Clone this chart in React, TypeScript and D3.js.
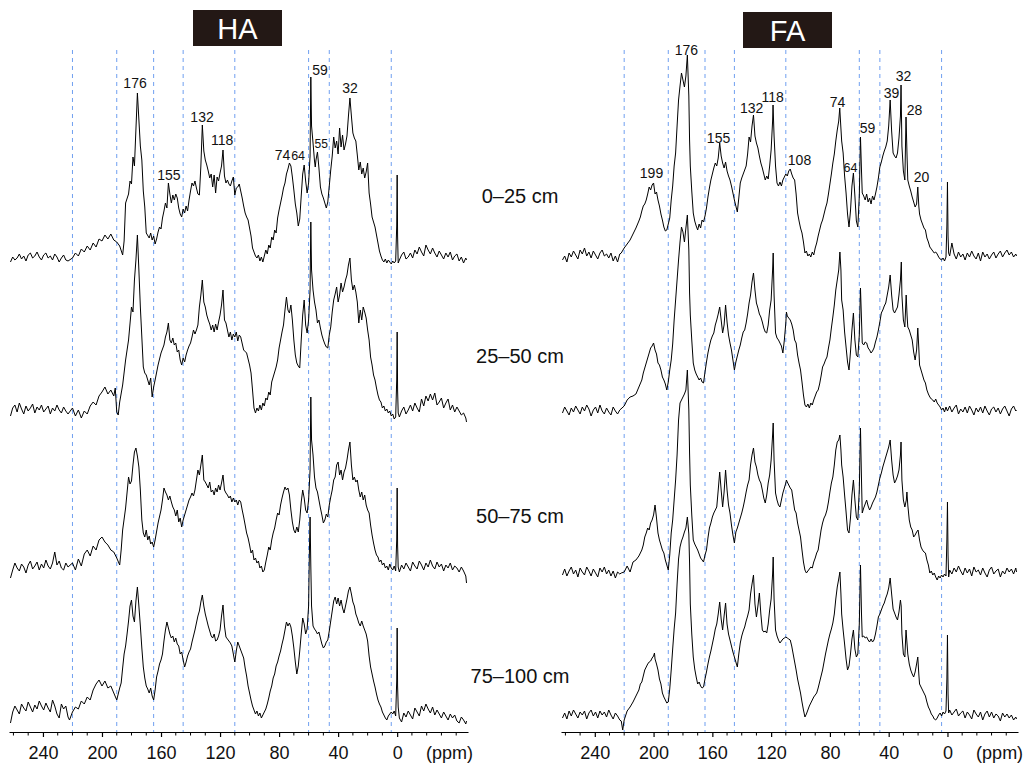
import React, { useRef, useEffect } from 'react';
import * as d3 from 'd3';

// depth labels and axis
const DEPTHS = ['0–25 cm', '25–50 cm', '50–75 cm', '75–100 cm'];
const PPM_TICKS = [240, 200, 160, 120, 80, 40, 0];
const REGION_LINES = [220, 190, 165, 145, 110, 60, 46, 4];

// spectra, flat [ppm, height, ppm, height, ...]
const HA_0_25 = [
  262,4, 260.5,9, 259,6, 257.5,8, 256,12, 254.5,7, 253,10, 251.5,5, 250,11, 248.5,13, 247,8, 245.5,10, 244,14, 242.5,9, 241,6, 239.5,11, 238,13, 236.5,8, 235,10,
  233.5,6, 232,12, 230.5,9, 229,4, 227.5,8, 226,11, 224.5,6, 223,5, 220,8,
  218,13, 216,10, 214,17, 212,14, 210,20, 208,16, 206,23, 204,19, 202,27, 200,25, 198,31, 196,27, 194,32, 192,26, 190,24, 188,20, 186,11, 185,25, 184,63, 182,72,
  181,85, 180,82, 179,109, 178,100, 176,173, 174,120, 173,106, 172,75, 171,59, 170,33, 168,28, 167,33, 166,26, 165,30, 164,22, 163,27, 162,34, 161,39, 160,37,
  159,48, 158,55, 157,63, 156,58, 155,83, 154,72, 153,63, 152,71, 151,66, 150,72, 149,68, 148,58, 147,52, 146,49, 145,57, 144,53, 143,60, 142,55, 141,66, 140,75,
  139,83, 138,80, 137,85, 136,78, 135,72, 134,71, 133,100, 132,141, 131,115, 130,106, 129,101, 128,95, 127,88, 126,92, 125,79, 124,91, 123,73, 122,89, 121,85,
  120,93, 119,100, 118,116, 117,90, 116,83, 115,86, 114,82, 113,80, 112,85, 111,89, 110,71, 109,78, 108,79, 107,82, 106,75, 105,68, 104,60, 103,53, 102,49, 101,46,
  100,38, 99,30, 98,18, 97,14, 96,10, 95,8, 94,11, 93,5, 92,9, 91,4, 90,10, 89,16, 88,12, 87,21, 86,18, 85,29, 84,26, 83,36, 82,33, 81,48, 80,56, 79,63, 78,70,
  77,78, 76,83, 75,92, 74,97, 73,103, 72,100, 71,89, 70,76, 69,62, 68,53, 67,40, 66,47, 65,70, 64,92, 63,101, 62,85, 61,73, 60,83, 59,110, 58.5,189, 58,140, 57,123,
  56,105, 55.5,99, 55,106, 54,114, 53,98, 52,79, 51,72, 50,68, 49,63, 48,58, 47,64, 46,80, 45,96, 44,110, 43,129, 42,118, 41,125, 40,112, 39,138, 38,119, 37,131,
  36,116, 35,122, 34,130, 33,150, 32,168, 31,150, 30,133, 29,128, 28,125, 27,111, 26,96, 25,104, 24,92, 23,98, 22,88, 21,94, 20,103, 19,73, 18,62, 17,49, 16,44,
  15,39, 14,31, 13,23, 12,15, 11,10, 10,6, 9,4, 8,7, 7,3, 6,6, 5,4, 4,2, 3,5, 2,3, 1,5, 0.3,40, 0,91, -0.3,30, -0.7,3,
  -1.5,6, -3,11, -4.5,14, -6,7, -7.5,9, -9,13, -10.5,8, -12,16, -13.5,12, -15,19, -16.5,14, -18,10, -19.5,21, -21,16, -22.5,12, -24,18, -25.5,13, -27,9, -28.5,15,
  -30,11, -31.5,7, -33,13, -34.5,9, -36,14, -37.5,6, -39,10, -40.5,12, -42,5, -43.5,9, -45,3, -46.5,8, -47,6,
];
const HA_25_50 = [
  262,4, 260.5,12, 259,15, 257.5,8, 256,17, 254.5,11, 253,6, 251.5,14, 250,9, 248.5,12, 247,16, 245.5,7, 244,13, 242.5,10, 241,15, 239.5,8, 238,11, 236.5,14, 235,6,
  233.5,12, 232,9, 230.5,15, 229,10, 227.5,7, 226,13, 224.5,9, 223,6,
  220,12, 218,4, 216,10, 214,2, 212,9, 210,6, 208,14, 206,18, 204,15, 202,24, 200,28, 198,33, 196,26, 194,30, 192,24, 191,32, 190,8, 189,5, 188,18, 186,35, 184,60,
  182,80, 180,113, 179,108, 178,140, 177,160, 176,185, 175,150, 174,113, 172,53, 171,47, 170,45, 168,35, 167,42, 166,23, 165,33, 164,40, 162,55, 160,67, 158,75,
  157,83, 156,88, 155,97, 154,80, 153,77, 152,82, 151,75, 150,77, 149,68, 148,70, 147,60, 146,55, 145,62, 144,58, 143,65, 142,70, 141,74, 140,77, 139,83, 138,90,
  137,86, 136,90, 135,95, 134,113, 133,125, 132,140, 131,118, 130,113, 129,105, 128,100, 127,96, 126,90, 125,95, 124,88, 123,96, 122,90, 121,98, 120,105, 119,115,
  118,130, 117,100, 116,97, 115,90, 114,83, 113,88, 112,80, 111,86, 110,83, 109,88, 108,79, 107,85, 106,83, 104,70, 102,67, 100,55, 99,47, 98,30, 97,12, 96,7,
  95,12, 94,9, 93,15, 92,10, 91,17, 90,14, 89,22, 88,20, 87,28, 86,25, 85,38, 84,43, 83,48, 82,53, 81,60, 80,72, 79,80, 78,88, 77,95, 76,110, 75,123, 74,110,
  73,107, 72,115, 71,100, 70,80, 69,65, 68,57, 67,54, 66,52, 65,80, 64,105, 63,120, 62,95, 61,87, 60,100, 59,130, 58.5,198, 58,150, 57,130, 56,118, 55,110, 54,97,
  53,100, 52,92, 51,85, 50,80, 49,76, 48,73, 47,72, 46,85, 45,93, 44,108, 43,120, 42,126, 41,133, 40,118, 39,125, 38,137, 37,128, 36,133, 35,140, 34,145, 33,155,
  32,162, 31,140, 30,130, 29,135, 28,128, 27,118, 26,97, 25,110, 24,100, 23,113, 22,108, 21,102, 20,90, 19,80, 18,63, 17,55, 16,45, 15,40, 14,32, 13,25, 12,20,
  11,18, 10,12, 9,14, 8,9, 7,11, 6,7, 5,9, 4,4, 3,6, 2,1, 1,3, 0.3,40, 0,88, -0.3,30, -0.7,7,
  -1.5,3, -3,9, -4.5,13, -6,6, -7.5,10, -9,15, -10.5,9, -12,17, -13.5,12, -15,8, -16.5,21, -18,14, -19.5,24, -21,19, -22.5,26, -24,20, -25.5,27, -27,15, -28.5,18,
  -30,22, -31.5,12, -33,17, -34.5,21, -36,10, -37.5,15, -39,8, -40.5,13, -42,9, -43.5,5, -45,7, -46.5,2, -47,-2,
];
const HA_50_75 = [
  262,2, 260.5,10, 259,17, 257.5,12, 256,9, 254.5,16, 253,13, 251.5,7, 250,15, 248.5,19, 247,11, 245.5,14, 244,18, 242.5,10, 241,16, 239.5,12, 238,20, 236.5,14,
  235,11, 233.5,17, 232,28, 230.5,15, 229,19, 227.5,12, 226,10, 224.5,17, 223,13,
  220,17, 218,10, 216,21, 214,14, 212,26, 210,30, 208,24, 206,34, 204,30, 202,40, 200,43, 198,38, 196,35, 194,30, 192,28, 190,22, 188,15, 187,30, 186,50,
  184,72, 182,103, 181,96, 180,99, 179,115, 178,128, 177,132, 176,124, 175,113, 174,90, 173,60, 172,47, 171,43, 170,50, 169,40, 168,44, 167,36, 166,38, 165,33,
  164,40, 162,57, 160,70, 159,80, 158,92, 157,88, 156,85, 155,80, 154,84, 153,78, 152,73, 151,70, 150,64, 149,70, 148,58, 147,62, 146,53, 145,60, 144,65, 143,70,
  142,75, 141,80, 140,83, 139,87, 138,84, 137,90, 136,100, 135,110, 134,105, 133,115, 132,125, 131,100, 130,98, 129,95, 128,92, 127,98, 126,88, 125,90, 124,85,
  123,92, 122,88, 121,95, 120,90, 119,97, 118,105, 117,90, 116,87, 115,85, 114,82, 113,84, 112,78, 111,82, 110,78, 109,80, 108,75, 107,80, 106,78, 105,70, 104,63,
  103,55, 102,47, 101,42, 100,35, 99,27, 98,30, 97,20, 96,22, 95,17, 94,19, 93,12, 92,14, 91,8, 90,10, 89,18, 88,25, 87,33, 86,30, 85,40, 84,47, 83,52, 82,60,
  81,67, 80,65, 79,75, 78,82, 77,88, 76,93, 75,90, 74,92, 73,85, 72,70, 71,58, 70,50, 69,47, 68,53, 67,48, 66,60, 65,78, 64,90, 63,82, 62,70, 61,67, 60,80,
  59,110, 58.5,183, 58,140, 57,125, 56,103, 55,92, 54,88, 53,80, 52,72, 51,65, 50,57, 49,60, 48,66, 47,63, 46,75, 45,83, 44,90, 43,100, 42,103, 41,115, 40,118,
  39,105, 38,110, 37,100, 36,108, 35,112, 34,120, 33,130, 32,138, 31,115, 30,100, 29,103, 28,98, 27,100, 26,90, 25,83, 24,88, 23,80, 22,85, 21,75, 20,70, 19,67,
  18,55, 17,45, 16,37, 15,30, 14,25, 13,23, 12,18, 11,20, 10,15, 9,17, 8,12, 7,14, 6,10, 5,16, 4,12, 3,10, 2,14, 1,9, 0.3,40, 0,92, -0.3,35, -0.7,13,
  -1.5,8, -3,15, -4.5,11, -6,17, -7.5,13, -9,9, -10.5,18, -12,14, -13.5,11, -15,19, -16.5,15, -18,10, -19.5,17, -21,13, -22.5,20, -24,14, -25.5,11, -27,18,
  -28.5,13, -30,16, -31.5,9, -33,15, -34.5,12, -36,17, -37.5,10, -39,14, -40.5,12, -42,8, -43.5,13, -45,9, -46.5,4, -47,-3,
];
const HA_75_100 = [
  262,3, 260.5,14, 259,20, 257.5,16, 256,12, 254.5,22, 253,18, 251.5,15, 250,24, 248.5,19, 247,14, 245.5,21, 244,17, 242.5,25, 241,20, 239.5,16, 238,23, 236.5,18,
  235,14, 233.5,26, 232,20, 230.5,12, 229,8, 227.5,22, 226,17, 224.5,20, 223,9, 222,6,
  220,14, 218,19, 216,17, 214,25, 212,22, 210,29, 208,26, 206,36, 204,42, 202,46, 200,40, 198,45, 196,38, 194,40, 192,33, 190,26, 188,38, 187,43, 186,58,
  185,72, 184,80, 183,92, 182,105, 181,120, 180,126, 179,110, 178,104, 177,125, 176,139, 175,120, 174,100, 173,78, 172,59, 171,48, 170,40, 169,37, 168,33, 167,38,
  166,30, 165,26, 164,36, 163,49, 162,55, 161,62, 160,66, 159,72, 158,85, 157,96, 156,104, 155,98, 154,92, 153,88, 152,90, 151,84, 150,88, 149,82, 148,80, 147,72,
  146,74, 145,66, 144,59, 143,64, 142,70, 141,74, 140,77, 139,84, 138,90, 137,96, 136,103, 135,110, 134,115, 133,124, 132,131, 131,120, 130,112, 129,106, 128,100,
  127,95, 126,90, 125,88, 124,92, 123,85, 122,86, 121,90, 120,96, 119,110, 118,121, 117,100, 116,89, 115,87, 114,85, 113,83, 112,80, 111,72, 110,64, 109,75, 108,84,
  107,80, 106,76, 105,72, 104,68, 103,58, 102,50, 101,40, 100,33, 99,26, 98,20, 97,16, 96,12, 95,15, 94,10, 93,13, 92,8, 91,11, 90,14, 89,17, 88,22, 87,28, 86,35,
  85,40, 84,48, 83,52, 82,60, 81,64, 80,70, 79,75, 78,82, 77,88, 76,96, 75,104, 74,100, 73,103, 72,99, 71,90, 70,78, 69,64, 68,52, 67,60, 66,75, 65,92, 64,108,
  63,102, 62,92, 61,97, 60,120, 59.5,170, 59,209, 58.5,160, 58,120, 57,100, 56,97, 55,95, 54,92, 53,94, 52,88, 51,82, 50,78, 49,80, 48,84, 47,86, 46,95, 45,105,
  44,115, 43,125, 42,129, 41,122, 40,128, 39,120, 38,126, 37,118, 36,113, 35,120, 34,127, 33,135, 32,139, 31,132, 30,124, 29,120, 28,112, 27,108, 26,103, 25,100,
  24,105, 23,100, 22,96, 21,92, 20,85, 19,70, 18,59, 17,52, 16,45, 15,39, 14,32, 13,26, 12,22, 11,19, 10,14, 9,11, 8,8, 7,6, 6,10, 5,12, 4,14, 3,12, 2,15, 1,10,
  0.3,45, 0,98, -0.3,40, -0.7,19,
  -1.5,8, -3,4, -4.5,13, -6,9, -7.5,15, -9,11, -10.5,7, -12,18, -13.5,14, -15,10, -16.5,20, -18,15, -19.5,22, -21,17, -22.5,13, -24,19, -25.5,11, -27,16,
  -28.5,12, -30,8, -31.5,14, -33,10, -34.5,6, -36,12, -37.5,8, -39,11, -40.5,5, -42,3, -43.5,9, -45,6, -46.5,2, -47,5,
];
const FA_0_25 = [
  262,6, 260.5,10, 259,4, 257.5,13, 256,9, 254.5,15, 253,11, 251.5,7, 250,16, 248.5,12, 247,18, 245.5,10, 244,14, 242.5,8, 241,15, 239.5,11, 238,7, 236.5,13,
  235,16, 233.5,10, 232,12, 230.5,8, 229,13, 227.5,5, 226,10, 224.5,4, 223,12, 222,13,
  220,18, 218,22, 216,26, 214,32, 212,38, 210,45, 209,49, 208,55, 207,60, 206,62, 205,66, 204,72, 203,79, 202,76, 201,81, 200,83, 199,72, 198,74, 197,66, 196,60,
  195,52, 194,46, 193,39, 192,35, 191,36, 190,42, 189,48, 188,66, 187,80, 186,100, 185,113, 184,140, 183,166, 182,180, 181,193, 180,186, 179,179, 178,190, 177,211,
  176,170, 175.5,126, 175,100, 174,75, 173,53, 172,45, 171,40, 170,36, 169,42, 168,38, 167,46, 166,44, 165,50, 164,58, 163,69, 162,78, 161,86, 160,92, 159,98,
  158,103, 157,100, 156,108, 155,123, 154,110, 153,103, 152,98, 151,104, 150,95, 149,90, 148,86, 147,80, 146,73, 145,66, 144,60, 143,54, 142,68, 141,83, 140,88,
  139,92, 138,96, 137,100, 136,112, 135,129, 134,124, 133,140, 132,151, 131,130, 130,123, 129,118, 128,110, 127,103, 126,98, 125,92, 124,86, 123,90, 122,87, 121,100,
  120,116, 119,145, 118.7,161, 118,130, 117,100, 116,83, 115,80, 114,84, 113,80, 112,86, 111,89, 110,92, 109,90, 108,95, 107,97, 106,92, 105,88, 104,86, 103,72,
  102,53, 101,45, 100,38, 99,33, 98,24, 97,13, 96,15, 95,10, 94,12, 93,9, 92,14, 91,11, 90,18, 89,23, 88,30, 87,36, 86,42, 85,46, 84,52, 83,58, 82,63, 81,72,
  80,82, 79,92, 78,103, 77,112, 76,125, 75,136, 74,145, 73.3,158, 73,150, 72,125, 71,113, 70,90, 69,73, 68,52, 67,39, 66,55, 65,80, 64,93, 63,70, 62,45, 61,39,
  60,70, 59.2,129, 58.5,95, 58,73, 57,70, 56,66, 55,72, 54,64, 53,68, 52,62, 51,70, 50,66, 49,72, 48,79, 47,88, 46,99, 45,104, 44,110, 43,115, 42,119, 41,125,
  40,140, 39,166, 38,135, 37,113, 36,110, 35,108, 34,113, 33,128, 32,150, 31.6,181, 31,120, 30,95, 29,86, 28.2,149, 27.5,110, 27,86, 26,80, 25,75, 24,69, 23,64,
  22,59, 21,62, 20.2,79, 19.5,60, 19,52, 18,46, 17,42, 16,38, 15,36, 14,28, 13,24, 12,19, 11,17, 10,15, 9,13, 8,14, 7,12, 6,9, 5,7, 4,6, 3,8, 2,5, 1,9,
  0.4,40, 0,84, -0.4,30, -0.8,13,
  -1.5,10, -3,23, -4.5,12, -6,7, -7.5,14, -9,9, -10.5,12, -12,6, -13.5,13, -15,9, -16.5,15, -18,10, -19.5,7, -21,13, -22.5,5, -24,14, -25.5,9, -27,12, -28.5,7,
  -30,11, -31.5,14, -33,8, -34.5,12, -36,15, -37.5,9, -39,13, -40.5,16, -42,11, -43.5,14, -45,9, -46.5,12, -47,10,
];
const FA_25_50 = [
  262,7, 260.5,13, 259,9, 257.5,5, 256,12, 254.5,8, 253,14, 251.5,10, 250,6, 248.5,13, 247,9, 245.5,15, 244,11, 242.5,4, 241,10, 239.5,13, 238,7, 236.5,15, 235,9,
  233.5,6, 232,12, 230.5,8, 229,5, 227.5,13, 226,9, 224.5,6, 223,10,
  220,14, 218,20, 216,23, 214,24, 212,26, 210,33, 208,40, 207,47, 206,52, 205,57, 204,62, 203,67, 202,72, 201,74, 200,77, 199,70, 198,66, 197,57, 196,55, 195,50,
  194,43, 193,40, 192,36, 191,30, 190,38, 189,50, 188,60, 187,76, 186,100, 185,120, 184,140, 183,160, 182,178, 181,193, 180,188, 179,178, 178,192, 177,205, 176,170,
  175.5,127, 175,105, 174,80, 173,57, 172,50, 171,46, 170,43, 169,40, 168,42, 167,38, 166,37, 165,48, 164,58, 163,67, 162,74, 161,80, 160,84, 159,87, 158,95,
  157,100, 156,106, 155,113, 154,100, 153,87, 152,95, 151,115, 150,98, 149,85, 148,77, 147,70, 146,60, 145,50, 144,58, 143,64, 142,70, 141,75, 140,82, 139,88,
  138,90, 137,97, 136,106, 135,117, 134,125, 133,138, 132,147, 131,130, 130,117, 129,112, 128,106, 127,103, 126,98, 125,92, 124,88, 123,87, 122,95, 121,110, 120,120,
  119,150, 118.6,167, 118,125, 117,87, 116,82, 115,80, 114,77, 113,74, 112,67, 111,80, 110,97, 109.6,108, 109,104, 108,102, 107,100, 106,96, 105,90, 104,80, 103,77,
  102,65, 101,57, 100,50, 99,38, 98,25, 97,15, 96,13, 95,16, 94,12, 93,17, 92,15, 91,20, 90,24, 89,28, 88,30, 87,36, 86,44, 85,53, 84,56, 83,60, 82,63, 81,72,
  80,80, 79,92, 78,103, 77,115, 76,130, 75,140, 74,150, 73.2,168, 72.5,150, 72,120, 71,110, 70,88, 69,73, 68,58, 67,50, 66,68, 65,90, 64,107, 63,80, 62,65, 61,63,
  60,85, 59.2,132, 58.5,100, 58,77, 57,75, 56,78, 55,77, 54,72, 53,70, 52,67, 51,69, 50,72, 49,78, 48,83, 47,90, 46,98, 45,107, 44,110, 43,114, 42,117, 41,125,
  40,133, 39,145, 38,125, 37,110, 36,107, 35,110, 34,113, 33,125, 32,140, 31.4,158, 31,125, 30,100, 29,93, 28.1,125, 27.5,105, 27,93, 26,90, 25,85, 24,80, 23,68,
  22,60, 21,70, 20.2,92, 19.5,72, 19,55, 18,50, 17,45, 16,40, 15,37, 14,30, 13,26, 12,23, 11,21, 10,20, 9,18, 8,21, 7,17, 6,15, 5,13, 4,10, 3,12, 2,8, 1,13, 0,9,
  -1.5,14, -3,8, -4.5,12, -6,15, -7.5,6, -9,11, -10.5,8, -12,13, -13.5,7, -15,14, -16.5,10, -18,5, -19.5,12, -21,8, -22.5,13, -24,7, -25.5,14, -27,9, -28.5,5,
  -30,11, -31.5,13, -33,8, -34.5,12, -36,6, -37.5,11, -39,14, -40.5,9, -42,4, -43.5,11, -45,14, -46.5,9, -47,10,
];
const FA_50_75 = [
  262,5, 260.5,11, 259,4, 257.5,9, 256,13, 254.5,6, 253,10, 251.5,3, 250,12, 248.5,8, 247,5, 245.5,13, 244,9, 242.5,4, 241,11, 239.5,7, 238,3, 236.5,12, 235,8,
  233.5,13, 232,6, 230.5,10, 229,4, 227.5,9, 226,2, 224.5,8, 223,6, 222,7,
  220,8, 218,14, 216,8, 214,18, 212,20, 210,24, 208,30, 207,35, 206,43, 205,47, 204,52, 203,50, 202,57, 201,60, 200,65, 199,75, 198,62, 197,47, 196,40, 195,35,
  194,30, 193,27, 192,20, 191,15, 190,10, 189,25, 188,47, 187,60, 186,80, 185,100, 184,125, 183,160, 182,177, 181,180, 180,183, 179,186, 178,190, 177,210, 176,170,
  175.5,127, 175,95, 174,65, 173,40, 172,36, 171,33, 170,30, 169,26, 168,22, 167,20, 166,18, 165,25, 164,30, 163,42, 162,52, 161,57, 160,63, 159,67, 158,70,
  157,73, 156,90, 155,108, 154,90, 153,73, 152,88, 151,110, 150,90, 149,75, 148,67, 147,55, 146,45, 145,37, 144,48, 143,52, 142,57, 141,62, 140,67, 139,73,
  138,80, 137,88, 136,95, 135,100, 134,115, 133,125, 132,132, 131,118, 130,113, 129,105, 128,100, 127,97, 126,90, 125,82, 124,77, 123,85, 122,97, 121,105, 120,120,
  119,145, 118.6,157, 118,120, 117,87, 116,80, 115,75, 114,73, 113,80, 112,87, 111,92, 110,97, 109.6,100, 109,98, 108,95, 107,92, 106,90, 105,80, 104,70, 103,67,
  102,57, 101,50, 100,43, 99,30, 98,18, 97,10, 96,7, 95,9, 94,11, 93,13, 92,12, 91,18, 90,22, 89,27, 88,30, 87,40, 86,50, 85,57, 84,62, 83,65, 82,70, 81,78,
  80,88, 79,97, 78,103, 77,115, 76,130, 75,138, 74,140, 73.2,145, 72.5,130, 72,115, 71,103, 70,85, 69,68, 68,50, 67,47, 66,62, 65,85, 64,100, 63,80, 62,63, 61,60,
  60,90, 59.2,152, 58.5,100, 58,67, 57,72, 56,76, 55,80, 54,74, 53,70, 52,73, 51,77, 50,80, 49,83, 48,88, 47,95, 46,102, 45,107, 44,113, 43,118, 42,123, 41,128,
  40,133, 39,140, 38,120, 37,105, 36,97, 35,100, 34,104, 33,110, 32,125, 31.6,138, 31,100, 30,80, 29,73, 28,80, 27.6,88, 27,75, 26,60, 25,53, 24,50, 23,43, 22,45,
  21,48, 20,50, 19,40, 18,33, 17,30, 16,28, 15,27, 14,20, 13,15, 12,7, 11,9, 10,5, 9,7, 8,3, 7,0, 6,4, 5,2, 4,5, 3,3, 2,6, 1,4, 0.4,40, 0,78, -0.4,25, -0.8,3,
  -1.5,10, -3,6, -4.5,12, -6,8, -7.5,14, -9,9, -10.5,5, -12,12, -13.5,7, -15,11, -16.5,4, -18,13, -19.5,8, -21,10, -22.5,5, -24,12, -25.5,7, -27,3, -28.5,10,
  -30,13, -31.5,6, -33,9, -34.5,11, -36,3, -37.5,9, -39,6, -40.5,12, -42,8, -43.5,11, -45,6, -46.5,12, -47,8,
];
const FA_75_100 = [
  262,6, 260.5,11, 259,5, 257.5,13, 256,8, 254.5,14, 253,10, 251.5,6, 250,12, 248.5,9, 247,13, 245.5,5, 244,11, 242.5,14, 241,8, 239.5,12, 238,6, 236.5,13, 235,9,
  233.5,12, 232,7, 230.5,14, 229,9, 227.5,5, 226,11, 224.5,8, 223,4, 222,3,
  221,-6, 220,4, 218,13, 216,17, 214,22, 212,28, 210,34, 209,40, 208,42, 207,48, 206,54, 205,57, 204,60, 203,62, 202,63, 201,66, 200,68, 199.4,71, 199,65, 198,60,
  197,54, 196,45, 195,40, 194,31, 193,27, 192,24, 191,21, 190,22, 189,35, 188,54, 187,75, 186,95, 185,111, 184,140, 183,165, 182,177, 181,183, 180,187, 179,192,
  178,196, 177,207, 176,190, 175.5,161, 175,120, 174,90, 173,67, 172,55, 171,47, 170,40, 169,42, 168,38, 167,36, 166,37, 165,45, 164,52, 163,60, 162,67, 161,73,
  160,80, 159,87, 158,95, 157,100, 156,110, 155,122, 154,105, 153,94, 152,108, 151,121, 150,100, 149,90, 148,84, 147,78, 146,72, 145,67, 144,62, 143,57, 142,70,
  141,81, 140,88, 139,93, 138,97, 137,103, 136,108, 135,114, 134,130, 133,140, 132,149, 131,120, 130,107, 129,118, 128,131, 127,110, 126,94, 125,92, 124,93, 123,91,
  122,100, 121,114, 120,125, 119,150, 118.6,167, 118,125, 117,94, 116,88, 115,84, 114,81, 113,83, 112,85, 111,86, 110,87, 109,86, 108,85, 107,84, 106,78, 105,70,
  104,62, 103,54, 102,45, 101,38, 100,31, 99,22, 98,14, 97,7, 96,10, 95,14, 94,18, 93,21, 92,24, 91,27, 90,29, 89,31, 88,36, 87,42, 86,48, 85,54, 84,62, 83,70,
  82,77, 81,84, 80,90, 79,95, 78,101, 77,110, 76,125, 75,137, 74,145, 73.2,152, 72.5,130, 72,110, 71,94, 70,80, 69,65, 68,54, 67,58, 66,70, 65,85, 64,94, 63,75,
  62,67, 61,70, 60,100, 59.2,159, 58.5,110, 58,87, 57,88, 56,86, 55,87, 54,84, 53,82, 52,85, 51,82, 50,84, 49,90, 48,98, 47,107, 46,110, 45,114, 44,118, 43,121,
  42,126, 41,130, 40,136, 39,146, 38,130, 37,115, 36,111, 35,107, 34,104, 33,112, 32,124, 31.5,118, 31,90, 30,70, 29,67, 28.2,94, 27.5,80, 27,70, 26,60, 25,54,
  24,50, 23,47, 22,52, 21,60, 20.2,67, 19.5,50, 19,40, 18,37, 17,34, 16,31, 15,28, 14,22, 13,17, 12,14, 11,10, 10,8, 9,5, 8,4, 7,6, 6,9, 5,11, 4,8, 3,12, 2,10,
  1,13, 0.4,45, 0,89, -0.4,30, -0.8,11,
  -1.5,14, -3,9, -4.5,12, -6,15, -7.5,8, -9,11, -10.5,13, -12,6, -13.5,12, -15,9, -16.5,5, -18,14, -19.5,10, -21,7, -22.5,12, -24,4, -25.5,10, -27,13, -28.5,7,
  -30,12, -31.5,6, -33,10, -34.5,8, -36,3, -37.5,11, -39,7, -40.5,10, -42,6, -43.5,9, -45,4, -46.5,7, -47,5,
];

const HA_SPECTRA = [HA_0_25, HA_25_50, HA_50_75, HA_75_100];
const FA_SPECTRA = [FA_0_25, FA_25_50, FA_50_75, FA_75_100];

// peak labels on the top spectrum: [text, ppm, height, fontSize]
const HA_PEAKS: [string, number, number, number][] = [
  ['176', 177.6, 178, 14], ['155', 154.6, 86, 14], ['132', 132.2, 144, 14], ['118', 118.6, 121, 14],
  ['74', 77.6, 106, 14], ['64', 67.1, 106, 12.5], ['59', 52.2, 191, 14], ['55', 51.5, 118, 12], ['32', 31.9, 173, 14],
];
const FA_PEAKS: [string, number, number, number][] = [
  ['176', 177.6, 211, 14], ['199', 201.4, 88, 14], ['155', 155.8, 123, 14], ['132', 133.3, 153, 14], ['118', 119, 164, 14],
  ['108', 100.7, 101, 14], ['74', 74.8, 159, 14], ['64', 66, 94, 12.5], ['59', 54.4, 133, 14], ['39', 38.1, 168, 14],
  ['32', 29.9, 185, 14], ['28', 22.4, 151, 14], ['20', 17.7, 84, 14],
];

const FONT = '"Liberation Sans", Arial, Helvetica, sans-serif';

const App = () => {
  const svgRef = useRef<SVGSVGElement>(null);

  useEffect(() => {
    const width = 1028, height = 765;
    const svg = d3.select(svgRef.current);
    svg.selectAll('*').remove();
    svg.attr('width', width).attr('height', height);
    svg.append('rect').attr('width', width).attr('height', height).attr('fill', '#fff');

    const axisY = 732;
    const panels = [
      { title: 'HA', spectra: HA_SPECTRA, peaks: HA_PEAKS, range: [9, 468], bases: [266, 420, 580, 726], box: [193, 10] },
      { title: 'FA', spectra: FA_SPECTRA, peaks: FA_PEAKS, range: [561, 1018], bases: [266, 420, 580, 724], box: [743, 12] },
    ];

    panels.forEach(p => {
      const x = d3.scaleLinear().domain([263, -48]).range(p.range);
      const g = svg.append('g');

      // region lines
      g.selectAll('line.region')
        .data(REGION_LINES)
        .enter()
        .append('line')
        .attr('x1', d => x(d)).attr('x2', d => x(d))
        .attr('y1', 50).attr('y2', axisY)
        .attr('stroke', '#6f9ff0')
        .attr('stroke-width', 1)
        .attr('stroke-dasharray', '4,4');

      // spectra
      p.spectra.forEach((flat, i) => {
        const pts = d3.range(0, flat.length, 2).map(k => [flat[k], flat[k + 1]] as [number, number]);
        const y = d3.scaleLinear().domain([0, 100]).range([p.bases[i], p.bases[i] - 100]);
        const line = d3.line<[number, number]>().x(d => x(d[0])).y(d => y(d[1]));
        g.append('path')
          .attr('d', line(pts))
          .attr('fill', 'none')
          .attr('stroke', '#000')
          .attr('stroke-width', 1)
          .attr('stroke-linejoin', 'round');
      });

      // peak labels
      const yTop = d3.scaleLinear().domain([0, 100]).range([p.bases[0], p.bases[0] - 100]);
      g.selectAll('text.peak')
        .data(p.peaks)
        .enter()
        .append('text')
        .attr('x', d => x(d[1]))
        .attr('y', d => yTop(d[2]))
        .attr('text-anchor', 'middle')
        .attr('font-family', FONT)
        .attr('font-size', d => d[3])
        .attr('fill', '#111')
        .text(d => d[0]);

      // axis
      const axis = d3.axisBottom(x)
        .tickValues(PPM_TICKS)
        .tickSize(5)
        .tickSizeOuter(0)
        .tickFormat(d3.format('d'));
      const ag = g.append('g').attr('transform', `translate(0,${axisY})`).call(axis);
      ag.select('.domain').attr('stroke', '#000').attr('stroke-width', 1.2);
      ag.selectAll('.tick line').attr('stroke', '#000').attr('stroke-width', 1.2);
      ag.selectAll('.tick text')
        .attr('font-family', FONT)
        .attr('font-size', 18)
        .attr('fill', '#111')
        .attr('dy', null)
        .attr('y', 27);
      g.selectAll('line.minor')
        .data(d3.range(260, -41, -10).filter(v => !PPM_TICKS.includes(v)))
        .enter()
        .append('line')
        .attr('x1', d => x(d)).attr('x2', d => x(d))
        .attr('y1', axisY).attr('y2', axisY + 3.5)
        .attr('stroke', '#000')
        .attr('stroke-width', 1);
      g.append('text')
        .attr('x', x(-19.5))
        .attr('y', axisY + 27)
        .attr('font-family', FONT)
        .attr('font-size', 18)
        .attr('fill', '#111')
        .text('(ppm)');

      // title box
      g.append('rect')
        .attr('x', p.box[0]).attr('y', p.box[1])
        .attr('width', 89).attr('height', 36)
        .attr('fill', '#231815');
      g.append('text')
        .attr('x', p.box[0] + 44.5)
        .attr('y', p.box[1] + 28.5)
        .attr('text-anchor', 'middle')
        .attr('font-family', '"Liberation Sans Narrow", "Liberation Sans", Arial, sans-serif')
        .attr('font-size', 29)
        .attr('fill', '#fff')
        .text(p.title);
    });

    // depth labels
    const depthY = [203, 363, 523, 683];
    svg.selectAll('text.depth')
      .data(DEPTHS)
      .enter()
      .append('text')
      .attr('x', 520)
      .attr('y', (d, i) => depthY[i])
      .attr('text-anchor', 'middle')
      .attr('font-family', FONT)
      .attr('font-size', 20)
      .attr('fill', '#111')
      .text(d => d);
  }, []);

  return (
    <div style={{ position: 'absolute', left: 0, top: 0 }}>
      <svg ref={svgRef}></svg>
    </div>
  );
};

export default App;
